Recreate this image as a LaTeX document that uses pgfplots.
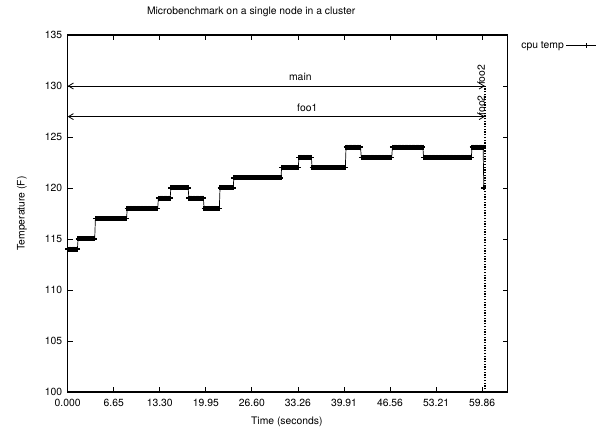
\documentclass[border=0pt]{standalone}
\usepackage{pgfplots}
\pgfplotsset{compat=1.18}
\usepackage{fontspec}
\setmainfont{TeX Gyre Heros}
\usetikzlibrary{arrows.meta}
\begin{document}
\fontsize{10.4}{12}\selectfont
\begin{tikzpicture}
\begin{axis}[
  at={(0,0)}, anchor=south west,
  scale only axis, width=440bp, height=357bp,
  xmin=0, xmax=63.55, ymin=100, ymax=135,
  axis line style={line width=1.2bp},
  tick style={line width=0.8bp, black},
  major tick length=5bp,
  tick align=inside,
  xtick={0,6.651,13.302,19.953,26.604,33.255,39.906,46.557,53.208,59.859},
  xticklabels={0.000,6.65,13.30,19.95,26.60,33.26,39.91,46.56,53.21,59.86},
  ytick={100,105,110,115,120,125,130,135},
  yticklabels={100,105,110,115,120,125,130,135},
  xticklabel style={yshift=-4bp},
  yticklabel style={xshift=-2bp},
  title={Microbenchmark on a single node in a cluster},
  title style={at={(axis description cs:0.417,1.047)}, anchor=center},
  xlabel={Time (seconds)},
  xlabel style={at={(axis description cs:0.498,-0.084)}, anchor=center},
  ylabel={Temperature (F)},
  ylabel style={at={(axis description cs:-0.104,0.5)}, anchor=center, rotate=0},
  legend style={at={(axis description cs:1.2025,0.970)}, anchor=east, draw=none, fill=none, inner sep=0pt, font=\fontsize{10.4}{12}\selectfont},
  legend plot pos=right,
  legend cell align=right,
  legend image code/.code={\draw[mark repeat=2,mark phase=2,mark options={line width=0.8bp}] plot coordinates {(0bp,0bp)(20bp,0bp)(30bp,0bp)};},
]
\addplot[black, line width=0.7bp, mark=+, mark size=2.5bp, mark options={line width=1.5bp}] table[row sep=\\] {
x y\\
0.0 114\\ 0.2 114\\ 0.4 114\\ 0.6 114\\ 0.8 114\\ 1.0 114\\ 1.2 114\\ 1.4 114\\
1.5 115\\ 1.7 115\\ 1.9 115\\ 2.1 115\\ 2.3 115\\ 2.5 115\\ 2.7 115\\ 2.9 115\\ 3.1 115\\ 3.3 115\\ 3.5 115\\ 3.7 115\\ 3.9 115\\
4.0 117\\ 4.2 117\\ 4.4 117\\ 4.6 117\\ 4.8 117\\ 5.0 117\\ 5.2 117\\ 5.4 117\\ 5.6 117\\ 5.8 117\\ 6.0 117\\ 6.2 117\\ 6.4 117\\ 6.6 117\\ 6.8 117\\ 7.0 117\\ 7.2 117\\ 7.4 117\\ 7.6 117\\ 7.8 117\\ 8.0 117\\ 8.2 117\\ 8.4 117\\ 8.5 117\\
8.6 118\\ 8.8 118\\ 9.0 118\\ 9.2 118\\ 9.4 118\\ 9.6 118\\ 9.8 118\\ 10.0 118\\ 10.2 118\\ 10.4 118\\ 10.6 118\\ 10.8 118\\ 11.0 118\\ 11.2 118\\ 11.4 118\\ 11.6 118\\ 11.8 118\\ 12.0 118\\ 12.2 118\\ 12.4 118\\ 12.6 118\\ 12.8 118\\ 13.0 118\\
13.1 119\\ 13.3 119\\ 13.5 119\\ 13.7 119\\ 13.9 119\\ 14.1 119\\ 14.3 119\\ 14.5 119\\ 14.7 119\\ 14.8 119\\
14.9 120\\ 15.1 120\\ 15.3 120\\ 15.5 120\\ 15.7 120\\ 15.9 120\\ 16.1 120\\ 16.3 120\\ 16.5 120\\ 16.7 120\\ 16.9 120\\ 17.1 120\\ 17.3 120\\ 17.4 120\\
17.5 119\\ 17.7 119\\ 17.9 119\\ 18.1 119\\ 18.3 119\\ 18.5 119\\ 18.7 119\\ 18.9 119\\ 19.1 119\\ 19.3 119\\ 19.5 119\\ 19.6 119\\
19.7 118\\ 19.9 118\\ 20.1 118\\ 20.3 118\\ 20.5 118\\ 20.7 118\\ 20.9 118\\ 21.1 118\\ 21.3 118\\ 21.5 118\\ 21.7 118\\ 21.9 118\\
22.0 120\\ 22.2 120\\ 22.4 120\\ 22.6 120\\ 22.8 120\\ 23.0 120\\ 23.2 120\\ 23.4 120\\ 23.6 120\\ 23.8 120\\ 23.9 120\\
24.0 121\\ 24.2 121\\ 24.4 121\\ 24.6 121\\ 24.8 121\\ 25.0 121\\ 25.2 121\\ 25.4 121\\ 25.6 121\\ 25.8 121\\ 26.0 121\\ 26.2 121\\ 26.4 121\\ 26.6 121\\ 26.8 121\\ 27.0 121\\ 27.2 121\\ 27.4 121\\ 27.6 121\\ 27.8 121\\ 28.0 121\\ 28.2 121\\ 28.4 121\\ 28.6 121\\ 28.8 121\\ 29.0 121\\ 29.2 121\\ 29.4 121\\ 29.6 121\\ 29.8 121\\ 30.0 121\\ 30.2 121\\ 30.4 121\\ 30.6 121\\ 30.8 121\\
30.9 122\\ 31.1 122\\ 31.3 122\\ 31.5 122\\ 31.7 122\\ 31.9 122\\ 32.1 122\\ 32.3 122\\ 32.5 122\\ 32.7 122\\ 32.9 122\\ 33.1 122\\ 33.3 122\\
33.4 123\\ 33.6 123\\ 33.8 123\\ 34.0 123\\ 34.2 123\\ 34.4 123\\ 34.6 123\\ 34.8 123\\ 35.0 123\\ 35.2 123\\
35.3 122\\ 35.5 122\\ 35.7 122\\ 35.9 122\\ 36.1 122\\ 36.3 122\\ 36.5 122\\ 36.7 122\\ 36.9 122\\ 37.1 122\\ 37.3 122\\ 37.5 122\\ 37.7 122\\ 37.9 122\\ 38.1 122\\ 38.3 122\\ 38.5 122\\ 38.7 122\\ 38.9 122\\ 39.1 122\\ 39.3 122\\ 39.5 122\\ 39.7 122\\ 39.9 122\\ 40.1 122\\
40.2 124\\ 40.4 124\\ 40.6 124\\ 40.8 124\\ 41.0 124\\ 41.2 124\\ 41.4 124\\ 41.6 124\\ 41.8 124\\ 42.0 124\\ 42.2 124\\ 42.3 124\\
42.4 123\\ 42.6 123\\ 42.8 123\\ 43.0 123\\ 43.2 123\\ 43.4 123\\ 43.6 123\\ 43.8 123\\ 44.0 123\\ 44.2 123\\ 44.4 123\\ 44.6 123\\ 44.8 123\\ 45.0 123\\ 45.2 123\\ 45.4 123\\ 45.6 123\\ 45.8 123\\ 46.0 123\\ 46.2 123\\ 46.4 123\\ 46.6 123\\ 46.8 123\\
46.9 124\\ 47.1 124\\ 47.3 124\\ 47.5 124\\ 47.7 124\\ 47.9 124\\ 48.1 124\\ 48.3 124\\ 48.5 124\\ 48.7 124\\ 48.9 124\\ 49.1 124\\ 49.3 124\\ 49.5 124\\ 49.7 124\\ 49.9 124\\ 50.1 124\\ 50.3 124\\ 50.5 124\\ 50.7 124\\ 50.9 124\\ 51.1 124\\ 51.3 124\\
51.4 123\\ 51.6 123\\ 51.8 123\\ 52.0 123\\ 52.2 123\\ 52.4 123\\ 52.6 123\\ 52.8 123\\ 53.0 123\\ 53.2 123\\ 53.4 123\\ 53.6 123\\ 53.8 123\\ 54.0 123\\ 54.2 123\\ 54.4 123\\ 54.6 123\\ 54.8 123\\ 55.0 123\\ 55.2 123\\ 55.4 123\\ 55.6 123\\ 55.8 123\\ 56.0 123\\ 56.2 123\\ 56.4 123\\ 56.6 123\\ 56.8 123\\ 57.0 123\\ 57.2 123\\ 57.4 123\\ 57.6 123\\ 57.8 123\\ 58.0 123\\ 58.2 123\\ 58.3 123\\
58.4 124\\ 58.6 124\\ 58.8 124\\ 59.0 124\\ 59.2 124\\ 59.4 124\\ 59.6 124\\ 59.8 124\\ 60.0 124\\
60.1 120\\
};
\addlegendentry{cpu temp}
\addplot[black, line width=1.4bp, dash pattern=on 1.3bp off 1.4bp, forget plot] coordinates {(0,100) (0,130)};
\addplot[black, line width=1.4bp, dash pattern=on 1.3bp off 1.4bp, forget plot] coordinates {(60.25,100) (60.25,130)};
\draw[line width=0.8bp, {Straight Barb[length=5bp,width=6bp]}-{Straight Barb[length=5bp,width=6bp]}] (axis cs:0,130) -- (axis cs:60.25,130);
\draw[line width=0.8bp, {Straight Barb[length=5bp,width=6bp]}-{Straight Barb[length=5bp,width=6bp]}] (axis cs:0,127) -- (axis cs:60.25,127);
\node[anchor=base, inner sep=0pt] at (axis cs:33.6,130.5) {main};
\node[anchor=base, inner sep=0pt] at (axis cs:34.6,127.5) {foo1};
\node[anchor=base west, rotate=90, inner sep=0pt] at (axis cs:60.25,130.1) {foo2};
\node[anchor=base west, rotate=90, inner sep=0pt] at (axis cs:60.25,127.1) {foo2};
\end{axis}
\pgfresetboundingbox
\path (-67.7bp,-36bp) rectangle (529.3bp,392bp);
\end{tikzpicture}
\end{document}
